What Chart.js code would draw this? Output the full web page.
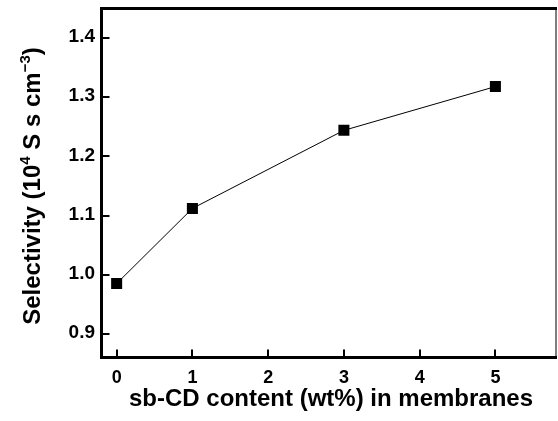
<!DOCTYPE html>
<html>
<head>
<meta charset="utf-8">
<script src="https://cdn.jsdelivr.net/npm/chart.js@4.4.1/dist/chart.umd.min.js"></script>
<style>
  html, body { margin: 0; padding: 0; background: #fff; }
  #wrap { width: 558px; height: 421px; position: relative; }
</style>
</head>
<body>
<div id="wrap"><canvas id="chart"></canvas></div>
<script>
// data
const contents = [0, 1, 3, 5];
const selectivity = [0.985, 1.112, 1.244, 1.318];
const xTicks = [0, 1, 2, 3, 4, 5];
const yTicks = [0.9, 1.0, 1.1, 1.2, 1.3, 1.4];

const FONT = "'Liberation Sans', Arial, sans-serif";

// frame, inward ticks, labels and titles
const framePlugin = {
    id: "frame",
    afterDraw(chart) {
        const ctx = chart.ctx;
        const a = chart.chartArea;
        const xs = chart.scales.x;
        const ys = chart.scales.y;
        ctx.save();
        ctx.strokeStyle = "#000";
        ctx.fillStyle = "#000";

        // ticks
        ctx.lineWidth = 2;
        xTicks.forEach(v => {
            const px = Math.round(xs.getPixelForValue(v));
            ctx.beginPath();
            ctx.moveTo(px, a.bottom);
            ctx.lineTo(px, a.bottom - 8);
            ctx.stroke();
        });
        yTicks.forEach(v => {
            const py = Math.round(ys.getPixelForValue(v));
            ctx.beginPath();
            ctx.moveTo(a.left, py);
            ctx.lineTo(a.left + 8, py);
            ctx.stroke();
        });

        // box
        ctx.lineWidth = 1.5;
        ctx.strokeStyle = "#555";
        ctx.beginPath();
        ctx.moveTo(a.right, a.top);
        ctx.lineTo(a.right, a.bottom);
        ctx.stroke();
        ctx.strokeStyle = "#000";
        ctx.lineWidth = 3;
        ctx.beginPath();
        ctx.moveTo(a.right + 1, a.top);
        ctx.lineTo(a.left, a.top);
        ctx.lineTo(a.left, a.bottom);
        ctx.lineTo(a.right + 1, a.bottom);
        ctx.stroke();

        // tick labels
        ctx.font = "bold 18px " + FONT;
        ctx.textAlign = "center";
        ctx.textBaseline = "middle";
        xTicks.forEach(v => {
            ctx.fillText(String(v), xs.getPixelForValue(v), 378);
        });
        ctx.font = "bold 19px " + FONT;
        ctx.textAlign = "right";
        yTicks.forEach(v => {
            ctx.fillText(v.toFixed(1), 95, ys.getPixelForValue(v) - 1);
        });

        // x title
        ctx.font = "bold 24px " + FONT;
        ctx.textAlign = "center";
        ctx.textBaseline = "alphabetic";
        ctx.fillText("sb-CD content (wt%) in membranes", 331, 406);

        // y title with superscripts
        const parts = [
            ["Selectivity (10", false],
            ["4", true],
            [" S s cm", false],
            ["\u22123", true],
            [")", false]
        ];
        const big = "bold 24px " + FONT;
        const small = "bold 15px " + FONT;
        let total = 0;
        parts.forEach(p => {
            ctx.font = p[1] ? small : big;
            total += ctx.measureText(p[0]).width;
        });
        ctx.translate(40, 186);
        ctx.rotate(-Math.PI / 2);
        let x = -total / 2;
        ctx.textAlign = "left";
        parts.forEach(p => {
            ctx.font = p[1] ? small : big;
            ctx.fillText(p[0], x, p[1] ? -10 : 0);
            x += ctx.measureText(p[0]).width;
        });
        ctx.restore();
    }
};

new Chart(document.getElementById("chart"), {
    type: "scatter",
    data: {
        datasets: [{
            data: contents.map((c, i) => ({ x: c, y: selectivity[i] })),
            showLine: true,
            borderColor: "#000",
            borderWidth: 1,
            backgroundColor: "#000",
            pointStyle: "rect",
            pointRadius: 7.8,
            pointHoverRadius: 7.8,
            pointBorderWidth: 0,
            tension: 0
        }]
    },
    options: {
        responsive: true,
        maintainAspectRatio: false,
        animation: false,
        events: [],
        layout: { autoPadding: false, padding: { top: 8.5, right: 2, left: 0, bottom: 0 } },
        plugins: { legend: { display: false }, tooltip: { enabled: false } },
        scales: {
            x: {
                type: "linear",
                min: -0.2,
                max: 5.8,
                grid: { display: false },
                border: { display: false },
                ticks: { display: false },
                afterFit(scale) { scale.height = 421 - 357.5; }
            },
            y: {
                type: "linear",
                min: 0.86,
                max: 1.45,
                grid: { display: false },
                border: { display: false },
                ticks: { display: false },
                afterFit(scale) { scale.width = 101.5; }
            }
        }
    },
    plugins: [framePlugin]
});
</script>
</body>
</html>
